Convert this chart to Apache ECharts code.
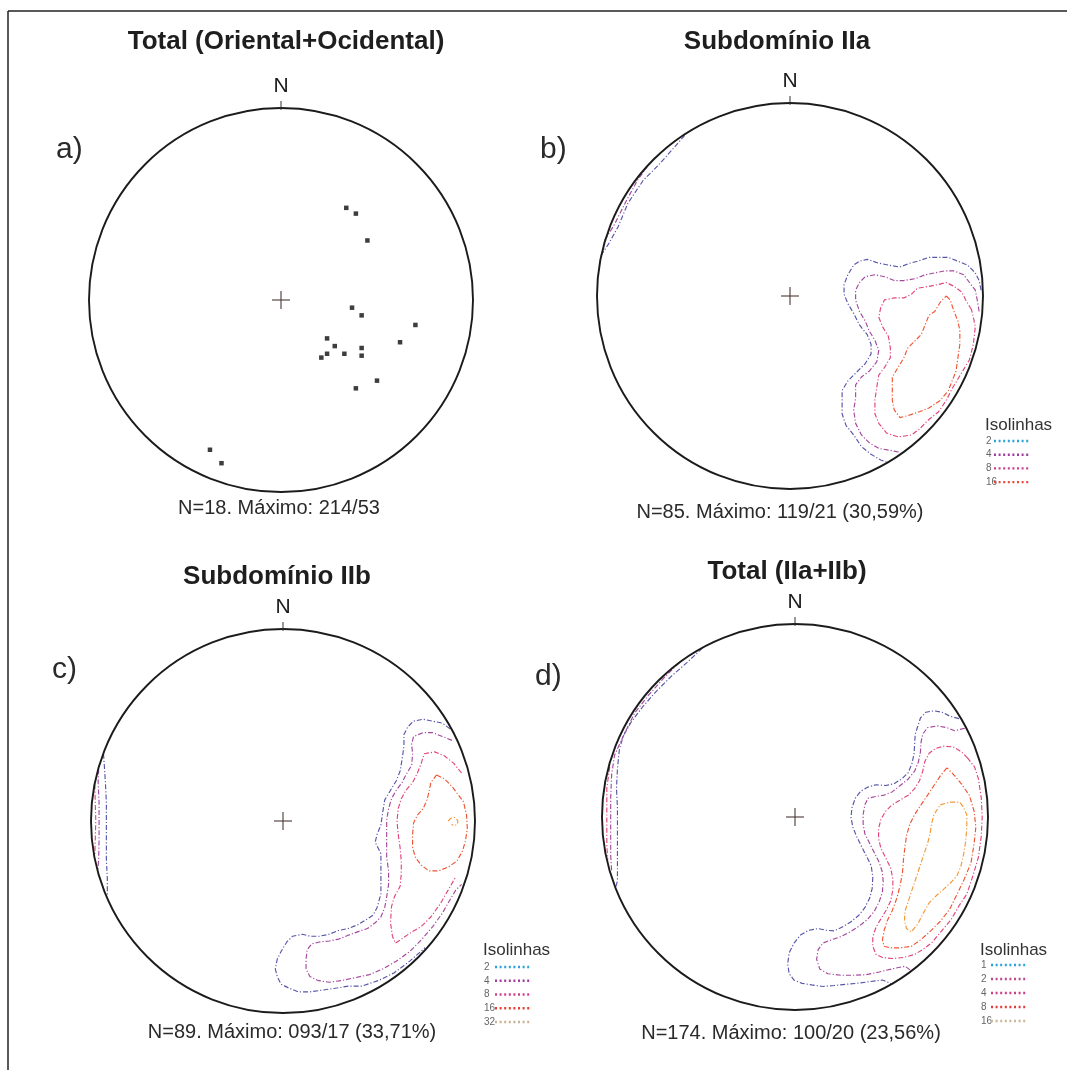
<!DOCTYPE html>
<html><head><meta charset="utf-8">
<script src="https://cdn.jsdelivr.net/npm/echarts@6/dist/echarts.min.js"></script>
<style>html,body{margin:0;padding:0;background:#fff}#c{width:1067px;height:1070px}</style>
</head><body><div id="c"></div><script>
// ---- DATA (net radius = 100 units, x = East, y = North) ----
const titles = ['Total (Oriental+Ocidental)', 'Subdomínio IIa', 'Subdomínio IIb', 'Total (IIa+IIb)'];
const letters = ['a)', 'b)', 'c)', 'd)'];
const footers = ['N=18. Máximo: 214/53', 'N=85. Máximo: 119/21 (30,59%)', 'N=89. Máximo: 093/17 (33,71%)', 'N=174. Máximo: 100/20 (23,56%)'];
const legendTitle = 'Isolinhas';
const levelsB = ['2', '4', '8', '16'];
const levelsC = ['2', '4', '8', '16', '32'];
const levelsD = ['1', '2', '4', '8', '16'];

const pointsA = [[34,48],[39,45],[45,31],[37,-4],[42,-8],[70,-13],[24,-20],[28,-24],[62,-22],[42,-25],[24,-28],[21,-30],[33,-28],[42,-29],[50,-42],[39,-46],[-37,-78],[-31,-85]];

const b2 = [[99,3],[98,8],[96,12],[92,16],[87,18],[82,20],[77,20],[72,20],[66,18],[62,17],[57,15],[51,16],[46,17],[40,19],[36,18],[33,16],[30,11],[28,6],[28,1],[30,-4],[33,-9],[36,-15],[40,-20],[42,-25],[42,-30],[39,-35],[34,-40],[30,-44],[27,-49],[27,-55],[27,-61],[29,-67],[33,-72],[37,-78],[42,-82],[47,-85],[50,-86]];
const b4 = [[98,-8],[97,-2],[96,3],[93,7],[90,11],[85,13],[80,13],[75,12],[70,11],[65,9],[59,8],[54,8],[49,10],[44,11],[39,10],[36,7],[34,3],[34,-2],[36,-8],[39,-13],[41,-18],[44,-23],[46,-28],[45,-34],[41,-39],[37,-42],[34,-46],[34,-53],[33,-59],[34,-66],[37,-72],[41,-76],[46,-79],[52,-80],[57,-81]];
const b8 = [[94,-7],[91,-2],[89,2],[85,5],[81,7],[77,6],[72,5],[66,4],[63,1],[59,-1],[54,-1],[49,-2],[47,-6],[46,-11],[48,-16],[51,-21],[52,-27],[52,-32],[49,-37],[46,-41],[45,-47],[44,-54],[44,-61],[46,-66],[50,-71],[56,-73],[63,-72],[67,-69],[72,-64],[77,-60],[81,-54],[84,-48],[87,-43],[90,-38],[93,-33],[95,-25],[96,-16],[95,-11],[94,-7]];
const b16 = [[81,0],[83,-2],[85,-8],[87,-13],[88,-18],[88,-25],[87,-32],[86,-39],[84,-44],[82,-49],[78,-54],[72,-58],[67,-60],[61,-62],[57,-63],[54,-59],[53,-54],[53,-47],[53,-42],[56,-37],[59,-32],[61,-27],[65,-23],[68,-20],[70,-15],[72,-10],[75,-8],[78,-3],[81,0]];
const bNW2 = [[-98,21],[-94,27],[-89,36],[-84,48],[-76,60],[-68,68],[-60,77],[-53,85]];
const bNW4 = [[-96,29],[-91,37],[-85,49],[-79,60],[-74,67]];

const c2 = [[87,48],[83,51],[78,52],[73,53],[68,52],[65,49],[63,45],[63,39],[62,32],[61,26],[59,21],[56,16],[53,11],[52,5],[51,-2],[49,-7],[48,-11],[49,-13],[51,-17],[51,-24],[51,-31],[51,-38],[49,-45],[47,-49],[44,-51],[39,-54],[34,-56],[29,-57],[24,-59],[19,-60],[14,-60],[10,-59],[5,-60],[2,-63],[-1,-68],[-3,-72],[-4,-77],[-3,-81],[-1,-85],[3,-87],[8,-89],[14,-89],[21,-88],[28,-87],[34,-86],[41,-86],[50,-83],[58,-79],[66,-73],[74,-66]];
const c4 = [[88,42],[83,44],[78,46],[73,46],[68,44],[67,40],[67.5,35],[67,29],[64,24],[62,20],[59,16],[56.5,11.6],[55,6.5],[54,0.5],[54,-5],[54,-12],[54,-19],[55,-26],[55,-33],[54,-39.5],[53,-45],[51,-50],[48,-53],[44,-56],[39.5,-57.5],[34,-59.5],[29,-61.5],[24,-62.5],[19,-63],[15,-64],[12.6,-67],[12,-72],[12,-77],[14,-81],[18,-83],[24,-84],[31,-83],[38,-81.5],[45,-80],[52,-77],[59,-73],[66,-68],[72,-62],[78,-55],[83,-48],[87,-41],[90,-36],[93,-33]];
const c8 = [[93,25],[89,30],[84,34],[79,36],[73.5,35],[72,30],[70,25],[67.5,20],[64,16],[61.6,11.6],[60,6.5],[59.4,0],[60,-7],[61,-14],[61.6,-21],[61.6,-27.6],[61,-34],[58,-39.5],[56.5,-44.6],[56,-53],[57,-60],[58.5,-63.6],[61.6,-61.6],[66,-58.5],[72,-55],[77,-50],[82,-43],[86,-36],[90,-29]];
const c16 = [[80,24],[84,22],[88,18],[91,14],[94,10],[95.6,3],[96,-4],[95,-10.5],[93.5,-15.6],[90.5,-21],[86,-24],[81,-26],[76,-26],[72,-23],[69,-19],[67.5,-14],[67.5,-7],[68,-1],[70,3],[73,6.5],[75,11],[76,15],[77,20],[80,24]];
const c32 = [[86,0],[87.5,1.5],[89.5,1.8],[91,0.3],[91,-1.5],[89.5,-2.4],[87.8,-1.8]];
const cW2 = [[-93.5,35],[-93,28],[-92.5,20],[-92,10],[-92,0],[-92,-10],[-92,-20],[-91.5,-30],[-91.5,-39]];
const cW4 = [[-96,27],[-96.3,20],[-95.8,10],[-95.8,0],[-95.8,-10],[-96,-20],[-96.5,-26]];
const cW8 = [[-98,19],[-97.8,10],[-97.5,0],[-97.8,-10],[-98,-18]];

const d1 = [[85,51],[80.3,52.2],[76.2,54.3],[72,55],[67.8,54.3],[65,51.3],[63.7,47.2],[62.3,43],[62,38],[61.7,33],[60.7,28],[58.7,23],[55.3,19.7],[51.2,17.2],[47,16.3],[42,16.7],[37.8,15.5],[34,13.3],[31.2,9.7],[29.5,4.7],[29,-0.3],[30,-5.3],[32,-10.3],[34.5,-15.3],[37,-20.3],[39.5,-25.3],[40.3,-31.2],[40,-37],[38.7,-42],[36.2,-47],[32.8,-51.2],[28.7,-54.5],[24.5,-57],[20.3,-59],[16.2,-58.7],[12,-57.8],[7,-58.7],[2.8,-61.2],[-0.5,-65.3],[-3,-70.3],[-3.8,-76.2],[-3,-81.2],[-0.5,-84.5],[3.7,-86.2],[8.7,-87],[14.5,-87.8],[20.3,-87.3],[26.2,-86.7],[32,-86.2],[38.7,-85.3],[45.3,-84.5],[50,-86.4]];
const d2 = [[88,46],[82.8,44.7],[78.7,46.3],[73.7,47.2],[68.7,46.3],[66.2,43],[65.3,38.8],[65,33.8],[64,28.8],[62,23.8],[58.7,19.7],[54.5,16.3],[50.3,13],[46.2,11.3],[41.2,10.5],[37.8,9.7],[36.2,6.3],[35.3,1.3],[35.3,-3.7],[36.2,-8.7],[38.7,-13.7],[41.2,-18.7],[43.7,-23.7],[45.3,-28.7],[45.7,-33.7],[45.3,-38.7],[43.7,-43.7],[41.2,-48.7],[37.8,-52.8],[33.7,-56.2],[28.7,-59.5],[23.7,-62],[18.7,-63.7],[14.5,-65.3],[12,-68.7],[11.2,-73.7],[12.8,-78.7],[17,-81.2],[23.7,-82],[30.3,-82],[37,-81.7],[43.7,-80.3],[50.3,-78.7],[57,-77.3],[60,-79.5]];
const d4 = [[89.5,30.5],[86.2,33.8],[82,36.3],[77,36.7],[72.8,35.5],[69.5,33],[67.3,28.8],[66.2,23.8],[64.5,18.8],[62,14.7],[58.7,11.3],[54.5,8.8],[50.3,6.3],[47,3],[44.5,-1.2],[43.3,-6.2],[43.3,-11.2],[44.5,-16.2],[47,-21.2],[49.5,-26.2],[50.7,-32],[50.7,-37.8],[49.5,-43.7],[47,-48.7],[44.5,-52.8],[42,-57],[40.3,-62],[40.3,-67],[42,-71.2],[45.3,-72.8],[50.3,-73.3],[56.2,-72.8],[62,-71.2],[66.2,-68.7],[71,-65],[76,-59],[81,-53],[85,-46],[89,-40],[92,-31],[95,-21],[96.5,-10],[97,0],[96.5,10],[95,20],[93,26],[89.5,30.5]];
const d8 = [[78.7,25.5],[75.3,21.3],[72,16.3],[68.7,11.3],[65.3,6.3],[62,1.3],[59.5,-3.7],[57.8,-9.5],[57,-15.3],[56.2,-22],[55.7,-28.7],[54.5,-35.3],[52.8,-42],[50.3,-48.7],[47.8,-53.7],[46.2,-58.7],[45.3,-63.7],[46.2,-67],[49.5,-67.8],[54.5,-67.8],[60.3,-67],[65.3,-63.5],[70.3,-59],[75.3,-54],[80,-48],[84,-40],[87.8,-32],[91.2,-23.7],[92.8,-13.7],[93.7,-5.3],[92.8,3],[90.3,11.3],[86.2,17.2],[82.8,21.3],[78.7,25.5]];
const d16 = [[75.3,6.3],[80.3,7.7],[85.3,7.7],[87,5.5],[89,1.3],[89,-5.3],[88.5,-12],[87.5,-18.7],[86,-25.3],[84,-30.3],[81,-33.7],[77.5,-37],[73.7,-40.3],[69.5,-44.5],[66.2,-50.3],[63.7,-55.3],[60.3,-59.5],[57.8,-57.8],[56.7,-53.7],[57,-48.7],[58.7,-43.7],[60.3,-38.7],[62,-33.7],[63.7,-28.7],[65.3,-23.7],[67,-18.7],[68.7,-13.7],[70,-8.7],[70.7,-3.7],[72,1.3],[75.3,6.3]];
const dW1 = [[-48,87.5],[-56,80],[-64,73],[-72,65],[-79,57],[-85,49],[-89,42],[-91,35],[-92,25],[-92.5,15],[-92,5],[-92,-5],[-92,-15],[-92,-25],[-92,-33],[-93,-37]];
const dW2 = [[-60,80],[-68,72],[-76,63],[-83,54],[-88,44],[-93.5,32],[-95,22],[-95.5,10],[-95.5,0],[-95.5,-10],[-95.5,-20],[-95,-28]];
const dW4 = [[-96,26],[-97.5,15],[-97.5,5],[-97.5,-5],[-97.5,-15],[-97,-22]];

// ---- STYLE / LAYOUT ----
const FONT = '"Liberation Sans", Arial, Helvetica, sans-serif';
const RAD = 100;
const COL = { l1: '#5856a8', l2: '#a5489d', l3: '#e0467c', l4: '#ee5532', l5: '#f29838' };
const LEGCOL = {
  b: ['#2aa3dc', '#a03c9c', '#c8408c', '#ea4a3a'],
  c: ['#2aa3dc', '#a03c9c', '#d0408a', '#e84030', '#c9b295'],
  d: ['#2aa3dc', '#c04890', '#d03c88', '#e43c3c', '#c9b895']
};
const gridsPos = [
  { left: 89, top: 108, width: 384, height: 384 },
  { left: 597, top: 103, width: 386, height: 386 },
  { left: 91, top: 629, width: 384, height: 384 },
  { left: 602, top: 624, width: 386, height: 386 }
];
const titlePos = [[286, 42], [777, 42], [277, 577], [787, 572]];
const letterPos = [[56, 150], [540, 150], [52, 670], [535, 677]];
const footerPos = [[279, 508], [780, 512], [292, 1032], [791, 1033]];

const chart = echarts.init(document.getElementById('c'), null, { renderer: 'canvas' });

function frameRender(params, api) {
  const c = api.coord([0, 0]);
  const r = api.size([RAD, RAD])[0];
  return {
    type: 'group', children: [
      { type: 'circle', shape: { cx: c[0], cy: c[1], r: r }, style: { fill: null, stroke: '#1b1b1b', lineWidth: 1.9 } },
      { type: 'line', shape: { x1: c[0] - 9, y1: c[1], x2: c[0] + 9, y2: c[1] }, style: { stroke: '#4a3733', lineWidth: 1.1 } },
      { type: 'line', shape: { x1: c[0], y1: c[1] - 9, x2: c[0], y2: c[1] + 9 }, style: { stroke: '#4a3733', lineWidth: 1.1 } },
      { type: 'line', shape: { x1: c[0], y1: c[1] - r + 2, x2: c[0], y2: c[1] - r - 7 }, style: { stroke: '#333', lineWidth: 1 } },
      { type: 'text', x: c[0], y: c[1] - r - 11, style: { text: 'N', font: '21px ' + FONT, fill: '#1b1b1b', align: 'center', verticalAlign: 'bottom', textAlign: 'center', textVerticalAlign: 'bottom' } }
    ]
  };
}

const grid = gridsPos.map(g => Object.assign({ containLabel: false }, g));
const xAxis = gridsPos.map((g, i) => ({ type: 'value', gridIndex: i, min: -RAD, max: RAD, show: false }));
const yAxis = gridsPos.map((g, i) => ({ type: 'value', gridIndex: i, min: -RAD, max: RAD, show: false }));

const series = [];
gridsPos.forEach((g, i) => {
  series.push({ type: 'custom', xAxisIndex: i, yAxisIndex: i, data: [[0, 0]], renderItem: frameRender, silent: true, z: 5 });
});
series.push({ type: 'scatter', xAxisIndex: 0, yAxisIndex: 0, data: pointsA, symbol: 'rect', symbolSize: 4.5, itemStyle: { color: '#0d0d0d' }, silent: true, z: 6 });

function contour(idx, data, color) {
  series.push({
    type: 'line', xAxisIndex: idx, yAxisIndex: idx, data: data, showSymbol: false, symbol: 'none',
    lineStyle: { color: color, width: 1.15, type: [5, 2, 1.2, 2] }, silent: true, z: 3, clip: false
  });
}
contour(1, b2, COL.l1); contour(1, b4, COL.l2); contour(1, b8, COL.l3); contour(1, b16, COL.l4);
contour(1, bNW2, COL.l1); contour(1, bNW4, COL.l2);
contour(2, c2, COL.l1); contour(2, c4, COL.l2); contour(2, c8, COL.l3); contour(2, c16, COL.l4); contour(2, c32, COL.l5);
contour(2, cW2, COL.l1); contour(2, cW4, COL.l2); contour(2, cW8, COL.l3);
contour(3, d1, COL.l1); contour(3, d2, COL.l2); contour(3, d4, COL.l3); contour(3, d8, COL.l4); contour(3, d16, COL.l5);
contour(3, dW1, COL.l1); contour(3, dW2, COL.l2); contour(3, dW4, COL.l3);

// ---- graphic: frame, texts, legends ----
const graphic = [
  { type: 'line', shape: { x1: 8, y1: 11, x2: 1067, y2: 11 }, style: { stroke: '#222', lineWidth: 1.5 } },
  { type: 'line', shape: { x1: 8, y1: 11, x2: 8, y2: 1070 }, style: { stroke: '#222', lineWidth: 1.5 } }
];
function txt(s, x, y, font, align, color) {
  graphic.push({ type: 'text', x: x, y: y, style: { text: s, font: font, fill: color || '#222', align: align, verticalAlign: 'middle', textAlign: align, textVerticalAlign: 'middle' } });
}
titles.forEach((t, i) => txt(t, titlePos[i][0], titlePos[i][1], 'bold 26px ' + FONT, 'center', '#1e1e1e'));
letters.forEach((t, i) => txt(t, letterPos[i][0], letterPos[i][1], '30px ' + FONT, 'left', '#2a2a2a'));
footers.forEach((t, i) => txt(t, footerPos[i][0], footerPos[i][1], '20px ' + FONT, 'center', '#2a2a2a'));

function legend(levels, cols, x0, ty, fy, step, lx1, lx2) {
  txt(legendTitle, x0, ty, '17px ' + FONT, 'left', '#333');
  levels.forEach((lv, k) => {
    const y = fy + k * step;
    txt(lv, x0 + 1, y, '10px ' + FONT, 'left', '#666');
    graphic.push({ type: 'line', shape: { x1: lx1, y1: y, x2: lx2, y2: y }, style: { stroke: cols[k], lineWidth: 2.4, lineDash: [2, 2.6] } });
  });
}
legend(levelsB, LEGCOL.b, 985, 425, 441, 13.7, 994, 1030);
legend(levelsC, LEGCOL.c, 483, 950, 967, 13.75, 495, 530);
legend(levelsD, LEGCOL.d, 980, 950, 965, 14, 991, 1026);

chart.setOption({ animation: false, backgroundColor: '#fff', grid: grid, xAxis: xAxis, yAxis: yAxis, series: series, graphic: graphic });
</script></body></html>
